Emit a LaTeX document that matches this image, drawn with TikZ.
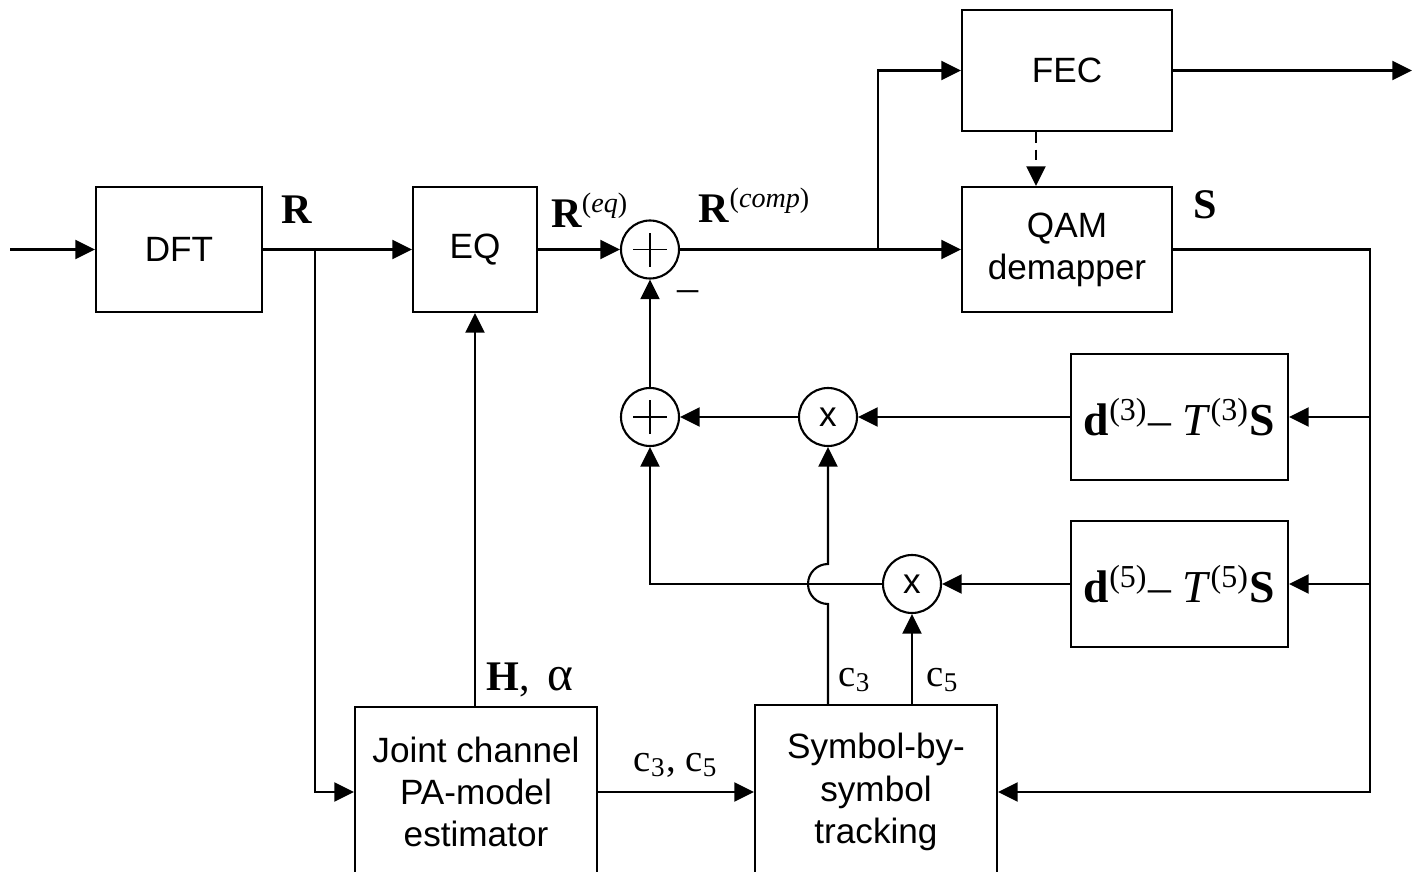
\documentclass[tikz,border=0pt]{standalone}
\usepackage{fontspec}
\setmainfont{Liberation Serif}
\newfontfamily\arialfont{Liberation Sans}
\usetikzlibrary{arrows.meta}

\tikzset{
  blk/.style={draw, align=center, inner sep=0pt, font=\arialfont\fontsize{10}{12}\selectfont},
  opnode/.style={draw, circle, minimum size=5.8mm, inner sep=0pt, font=\arialfont\fontsize{10}{12}\selectfont},
  sumnode/.style={opnode, path picture={
      \draw[line width=0.5pt] ([xshift=-1.7mm]path picture bounding box.center) -- ([xshift=1.7mm]path picture bounding box.center);
      \draw[line width=0.5pt] ([yshift=-1.7mm]path picture bounding box.center) -- ([yshift=1.7mm]path picture bounding box.center);}},
  lbl/.style={font=\fontsize{12}{14}\selectfont},
  slbl/.style={font=\fontsize{11}{13}\selectfont},
}

\begin{document}
\begin{tikzpicture}[>={Triangle[length=5.6pt,width=5.4pt]}, line width=0.6pt]
\useasboundingbox (0,0) rectangle (14.14,8.71);
\clip (0,0) rectangle (14.14,8.71);

% === Forward chain ===
\node[blk, minimum width=16.6mm, minimum height=12.5mm] (DFT) at (1.79,6.215) {DFT};
\node[blk, minimum width=12.4mm, minimum height=12.5mm] (EQ) at (4.75,6.215) {EQ};
\node[sumnode] (S1) at (6.50,6.215) {};
\node[blk, minimum width=21mm, minimum height=12.1mm] (FEC) at (10.67,8.005) {FEC};
\node[blk, minimum width=21mm, minimum height=12.5mm] (QAM) at (10.67,6.215) {QAM\\demapper};

% === Distortion feedback ===
\node[blk, minimum width=21.7mm, minimum height=12.6mm, font=\fontsize{13}{15}\selectfont] (D3) at (11.795,4.54)
  {\textbf{d}\textsuperscript{(3)}– \textit{T}\textsuperscript{(3)}\textbf{S}};
\node[blk, minimum width=21.7mm, minimum height=12.6mm, font=\fontsize{13}{15}\selectfont] (D5) at (11.795,2.87)
  {\textbf{d}\textsuperscript{(5)}– \textit{T}\textsuperscript{(5)}\textbf{S}};
\node[opnode] (M1) at (8.28,4.54) {x};
\node[sumnode] (S2) at (6.50,4.54) {};
\node[opnode] (M2) at (9.12,2.87) {x};

% === Estimation ===
\node[blk, minimum width=24.2mm, minimum height=17mm] (JE) at (4.76,0.79) {Joint channel\\PA-model\\estimator};
\node[blk, minimum width=24.2mm, minimum height=17.4mm] (SBS) at (8.76,0.79) {Symbol-by-\\symbol\\tracking};

\coordinate (in) at (0.10,6.215);
\coordinate (out) at (14.12,8.005);
\coordinate (rb) at (3.15,6.215);
\coordinate (fb) at (8.78,6.215);
\coordinate (sb) at (13.70,0.79);
\coordinate (jmp) at (M2.west -| M1.south);

% connectors
\draw[->] (in) -- (DFT);
\draw[->] (DFT) -- (EQ);
\draw[->] (EQ) -- (S1);
\draw[->] (S1) -- (QAM);
\draw[->] (fb) |- (FEC);
\draw[->] (FEC) -- (out);
\draw[->, dash pattern=on 3pt off 2pt] ([xshift=-3.1mm]FEC.south) -- ([xshift=-3.1mm]QAM.north);
\draw[->] (rb) |- (JE);
\draw[->] (EQ.south |- JE.north) -- (EQ.south);
\draw[->] (JE) -- (SBS);
\draw[->] (QAM.east) -| (sb) -- (SBS.east);
\draw[->] (sb |- D3.east) -- (D3.east);
\draw[->] (sb |- D5.east) -- (D5.east);
\draw[->] (D3) -- (M1);
\draw[->] (M1) -- (S2);
\draw[->] (S2) -- (S1);
\draw[->] (D5) -- (M2);
\draw[->] (M2) -| (S2);
\draw[->] (SBS.north -| M2) -- (M2);
\draw[->] (SBS.north -| M1) -- ([yshift=-2mm]jmp) arc[start angle=270, end angle=90, radius=2mm] -- (M1);

% labels
\node[lbl] (lR) at (2.97,6.61) {\textbf{R}};
\node[lbl] (lReq) at (5.90,6.61) {\textbf{R}\textsuperscript{(\textit{eq})}};
\node[lbl] (lRc) at (7.55,6.66) {\textbf{R}\textsuperscript{(\textit{comp})}};
\node[lbl] (lS) at (12.05,6.66) {\textbf{S}};
\node[lbl] (lmin) at (6.88,5.75) {–};
\node[lbl] (lH) at (5.30,1.91) {\textbf{H},\, {\fontsize{14}{16}\selectfont α}};
\node[slbl] (lc35) at (6.76,1.06) {c\textsubscript{3}, c\textsubscript{5}};
\node[slbl] (lc3) at (8.55,1.91) {c\textsubscript{3}};
\node[slbl] (lc5) at (9.43,1.91) {c\textsubscript{5}};
\end{tikzpicture}
\end{document}
